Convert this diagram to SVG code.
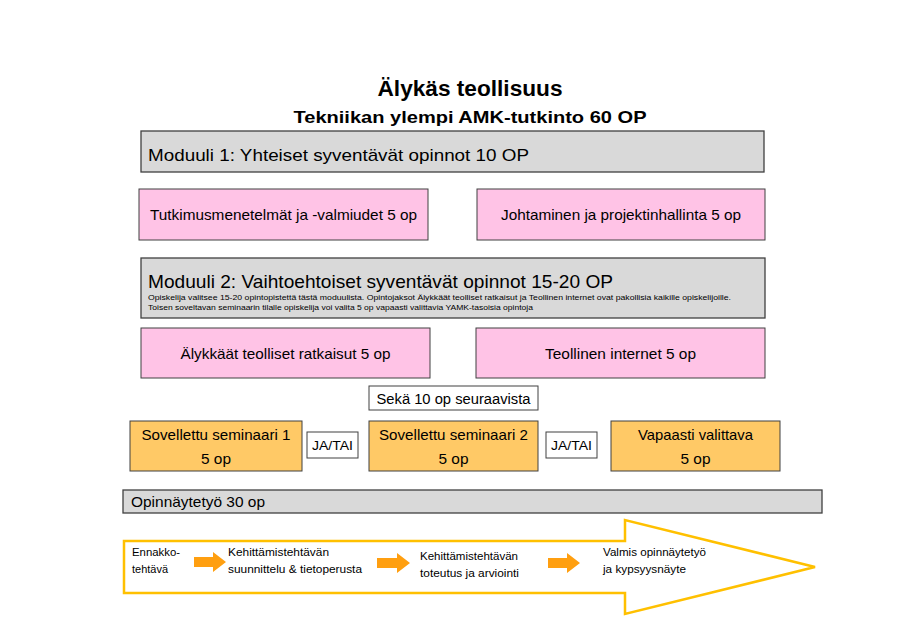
<svg xmlns="http://www.w3.org/2000/svg" width="912" height="630" viewBox="0 0 912 630">
<style>
text{font-family:"Liberation Sans",Arial,sans-serif;fill:#000}
.t{font-weight:bold;text-anchor:middle}
.gray{fill:#d9d9d9;stroke:#404040;stroke-width:1.3}
.pink{fill:#ffc3e6;stroke:#404040;stroke-width:1}
.orange{fill:#ffc966;stroke:#404040;stroke-width:1}
.white{fill:#fff;stroke:#404040;stroke-width:1}
.c{text-anchor:middle}
.m{fill:#ff9f10}
</style>
<rect width="912" height="630" fill="#fff"/>
<g id="title">
<text class="t" x="470" y="96" font-size="22" textLength="185" lengthAdjust="spacingAndGlyphs">Älykäs teollisuus</text>
<text class="t" x="470" y="123" font-size="17" textLength="353" lengthAdjust="spacingAndGlyphs">Tekniikan ylempi AMK-tutkinto 60 OP</text>
</g>
<g id="moduuli1">
<rect class="gray" x="141" y="131" width="623" height="41"/>
<text x="148" y="161" font-size="17" textLength="381" lengthAdjust="spacingAndGlyphs">Moduuli 1: Yhteiset syventävät opinnot 10 OP</text>
</g>
<g id="tutkimus">
<rect class="pink" x="139" y="189" width="289" height="51"/>
<text class="c" x="283.5" y="220" font-size="14.5" textLength="267" lengthAdjust="spacingAndGlyphs">Tutkimusmenetelmät ja -valmiudet 5 op</text>
</g>
<g id="johtaminen">
<rect class="pink" x="477" y="189" width="288" height="51"/>
<text class="c" x="621" y="220" font-size="14.5" textLength="240" lengthAdjust="spacingAndGlyphs">Johtaminen ja projektinhallinta 5 op</text>
</g>
<g id="moduuli2">
<rect class="gray" x="141" y="258" width="624" height="60"/>
<text x="148" y="288" font-size="19" textLength="465" lengthAdjust="spacingAndGlyphs">Moduuli 2: Vaihtoehtoiset syventävät opinnot 15-20 OP</text>
<text x="148" y="300" font-size="8" textLength="583" lengthAdjust="spacingAndGlyphs">Opiskelija valitsee 15-20 opintopistettä tästä moduulista. Opintojaksot Älykkäät teolliset ratkaisut ja Teollinen internet ovat pakollisia kaikille opiskelijoille.</text>
<text x="148" y="310" font-size="8" textLength="385" lengthAdjust="spacingAndGlyphs">Toisen soveltavan seminaarin tilalle opiskelija voi valita 5 op vapaasti valittavia YAMK-tasoisia opintoja</text>
</g>
<g id="alykkaat">
<rect class="pink" x="141" y="328" width="289" height="50"/>
<text class="c" x="285.5" y="359" font-size="14.5" textLength="210" lengthAdjust="spacingAndGlyphs">Älykkäät teolliset ratkaisut 5 op</text>
</g>
<g id="teollinen">
<rect class="pink" x="476" y="328" width="289" height="50"/>
<text class="c" x="620.5" y="359" font-size="14.5" textLength="151" lengthAdjust="spacingAndGlyphs">Teollinen internet 5 op</text>
</g>
<g id="seka">
<rect class="white" x="369" y="386" width="169" height="24"/>
<text class="c" x="453.5" y="404" font-size="14" textLength="154" lengthAdjust="spacingAndGlyphs">Sekä 10 op seuraavista</text>
</g>
<g id="seminaari1">
<rect class="orange" x="130" y="421" width="172" height="50"/>
<text class="c" x="216" y="440" font-size="15" textLength="149" lengthAdjust="spacingAndGlyphs">Sovellettu seminaari 1</text>
<text class="c" x="216" y="464" font-size="15" textLength="30" lengthAdjust="spacingAndGlyphs">5 op</text>
</g>
<g id="jatai1">
<rect class="white" x="307" y="432" width="51" height="26"/>
<text class="c" x="332.5" y="450" font-size="12" textLength="41" lengthAdjust="spacingAndGlyphs">JA/TAI</text>
</g>
<g id="seminaari2">
<rect class="orange" x="369" y="421" width="169" height="50"/>
<text class="c" x="453.5" y="440" font-size="15" textLength="149" lengthAdjust="spacingAndGlyphs">Sovellettu seminaari 2</text>
<text class="c" x="453.5" y="464" font-size="15" textLength="30" lengthAdjust="spacingAndGlyphs">5 op</text>
</g>
<g id="jatai2">
<rect class="white" x="546" y="432" width="51" height="26"/>
<text class="c" x="571.5" y="450" font-size="12" textLength="41" lengthAdjust="spacingAndGlyphs">JA/TAI</text>
</g>
<g id="vapaasti">
<rect class="orange" x="611" y="421" width="169" height="50"/>
<text class="c" x="695.5" y="440" font-size="15" textLength="115" lengthAdjust="spacingAndGlyphs">Vapaasti valittava</text>
<text class="c" x="695.5" y="464" font-size="15" textLength="30" lengthAdjust="spacingAndGlyphs">5 op</text>
</g>
<g id="opinnaytetyo">
<rect class="gray" x="123" y="490" width="699" height="23"/>
<text x="131" y="507" font-size="14.5" textLength="134" lengthAdjust="spacingAndGlyphs">Opinnäytetyö 30 op</text>
</g>
<g id="prosessi">
<path d="M124 541 H625 V520 L815 567 L625 614 V593 H124 Z" fill="#fff" stroke="#ffc000" stroke-width="2.5" stroke-linejoin="miter"/>
<text x="132" y="556" font-size="11" textLength="48" lengthAdjust="spacingAndGlyphs">Ennakko-</text>
<text x="132" y="573" font-size="11" textLength="36" lengthAdjust="spacingAndGlyphs">tehtävä</text>
<text x="228" y="556" font-size="11" textLength="101" lengthAdjust="spacingAndGlyphs">Kehittämistehtävän</text>
<text x="228" y="573" font-size="11" textLength="134" lengthAdjust="spacingAndGlyphs">suunnittelu &amp; tietoperusta</text>
<text x="420" y="560" font-size="11" textLength="98" lengthAdjust="spacingAndGlyphs">Kehittämistehtävän</text>
<text x="420" y="577" font-size="11" textLength="99" lengthAdjust="spacingAndGlyphs">toteutus ja arviointi</text>
<text x="603" y="556" font-size="11" textLength="103" lengthAdjust="spacingAndGlyphs">Valmis opinnäytetyö</text>
<text x="603" y="573" font-size="11" textLength="83" lengthAdjust="spacingAndGlyphs">ja kypsyysnäyte</text>
</g>
<g id="connectors">
<path class="m" d="M194 557 H213 V552 L226 562 L213 572 V567 H194 Z"/>
<path class="m" d="M377 558 H397 V553 L410 563 L397 573 V568 H377 Z"/>
<path class="m" d="M548 558 H567 V553 L580 563 L567 573 V568 H548 Z"/>
</g>
</svg>
